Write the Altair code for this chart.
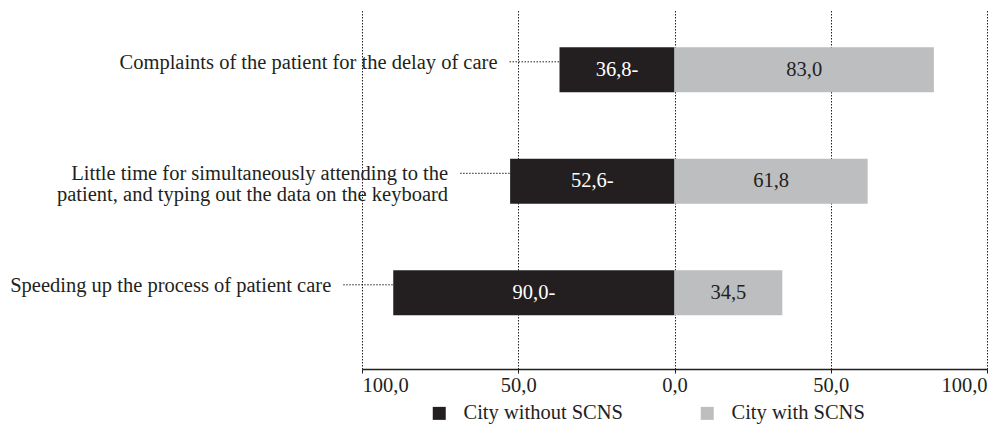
import altair as alt
import pandas as pd

categories = [
    "Complaints of the patient for the delay of care",
    "Little time for simultaneously attending to the\npatient, and typing out the data on the keyboard",
    "Speeding up the process of patient care",
]
series_names = ["City without SCNS", "City with SCNS"]
without_scns = [36.8, 52.6, 90.0]
with_scns = [83.0, 61.8, 34.5]
tick_values = [-100, -50, 0, 50, 100]

DARK = "#231f20"
GRAY = "#bcbec0"
FONT = "Liberation Serif"
FS = 20.5

rows = []
for c, a, b in zip(categories, without_scns, with_scns):
    rows.append({"category": c, "series": series_names[0], "start": -a, "end": 0.0,
                 "label": f"{a:.1f}".replace(".", ",") + "-"})
    rows.append({"category": c, "series": series_names[1], "start": 0.0, "end": b,
                 "label": f"{b:.1f}".replace(".", ",")})
bars_df = pd.DataFrame(rows)
bars_df["mid"] = (bars_df["start"] + bars_df["end"]) / 2

lab_df = pd.DataFrame({"category": categories, "left": [-v for v in without_scns]})

yscale = alt.Scale(domain=categories, paddingInner=0.596, paddingOuter=0.408, align=0.41)
y = alt.Y("category:N", sort=categories, scale=yscale, axis=None)
xscale = alt.Scale(domain=[-100, 100], nice=False)

bars = alt.Chart(bars_df).mark_bar().encode(
    x=alt.X("start:Q", scale=xscale, title=None,
            axis=alt.Axis(values=tick_values, grid=True, gridDash=[1.5, 1.5], gridColor=DARK,
                          gridOpacity=1, gridWidth=1,
                          domain=True, domainColor=DARK, domainWidth=1.5,
                          ticks=True, tickSize=4, tickColor=DARK, tickWidth=1,
                          labelFont=FONT, labelFontSize=FS, labelColor=DARK, labelPadding=2,
                          labelExpr="replace(format(abs(datum.value), '.1f'), '.', ',')")),
    x2="end:Q",
    y=y,
    color=alt.Color("series:N", scale=alt.Scale(domain=series_names, range=[DARK, GRAY]),
                    legend=alt.Legend(title=None, orient="none", direction="horizontal",
                                      legendX=67, legendY=393, symbolType="square",
                                      symbolSize=169, symbolStrokeWidth=0, symbolOpacity=1,
                                      labelFont=FONT, labelFontSize=FS, labelColor=DARK,
                                      labelOffset=14, columnPadding=74)),
)

bar_text = alt.Chart(bars_df).mark_text(font=FONT, fontSize=FS, baseline="middle", align="center").encode(
    x=alt.X("mid:Q", scale=xscale),
    y=y,
    text="label:N",
    color=alt.condition(alt.datum.series == series_names[0], alt.value("white"), alt.value(DARK)),
)

leaders = alt.Chart(lab_df).transform_calculate(lx="datum.left - 16").mark_rule(
    color=DARK, strokeDash=[1.5, 1.5], strokeWidth=1, yOffset=-8
).encode(x=alt.X("lx:Q", scale=xscale), x2="left:Q", y=y)

cat_text = alt.Chart(lab_df).mark_text(font=FONT, fontSize=FS, align="right", baseline="middle",
                                       dx=-62, dy=-7, lineBreak="\n", color=DARK, lineHeight=21).encode(
    x=alt.X("left:Q", scale=xscale),
    y=y,
    text="category:N",
)

chart = alt.layer(bars, leaders, bar_text, cat_text).properties(
    width=625, height=359,
    autosize=alt.AutoSizeParams(type="none"),
    padding={"left": 354, "top": 2, "right": 10, "bottom": 62},
).configure_view(stroke=None)

chart.save("out.html", embed_options={"renderer": "svg", "actions": False})
